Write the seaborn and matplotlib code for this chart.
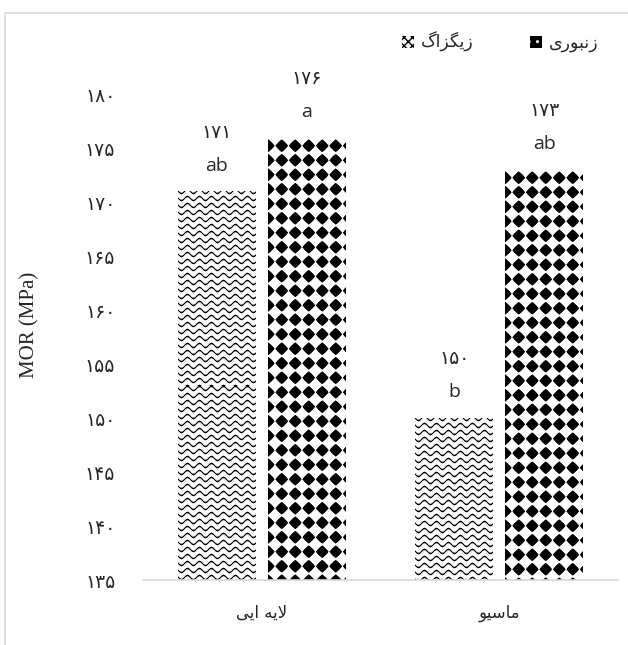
import numpy as np
import pandas as pd
import matplotlib
matplotlib.use("Agg")
import matplotlib.pyplot as plt
import seaborn as sns
from matplotlib.patches import Patch, Rectangle

# داده‌ها
categories = ["لایه ایی", "ماسیو"]
series = ["زیگزاگ", "زنبوری"]
zigzag_values = [171, 150]
honeycomb_values = [176, 173]
zigzag_letters = ["ab", "b"]
honeycomb_letters = ["a", "ab"]
y_ticks = [135, 140, 145, 150, 155, 160, 165, 170, 175, 180]
y_label = "MOR (MPa)"

# شکل‌دهی ساده حروف فارسی (matplotlib خودش اتصال و راست‌به‌چپ ندارد)
FORMS = {
    "ا": ("\uFE8D", "\uFE8E", None, None),
    "ب": ("\uFE8F", "\uFE90", "\uFE91", "\uFE92"),
    "ر": ("\uFEAD", "\uFEAE", None, None),
    "ز": ("\uFEAF", "\uFEB0", None, None),
    "س": ("\uFEB1", "\uFEB2", "\uFEB3", "\uFEB4"),
    "گ": ("\uFB92", "\uFB93", "\uFB94", "\uFB95"),
    "ل": ("\uFEDD", "\uFEDE", "\uFEDF", "\uFEE0"),
    "م": ("\uFEE1", "\uFEE2", "\uFEE3", "\uFEE4"),
    "ن": ("\uFEE5", "\uFEE6", "\uFEE7", "\uFEE8"),
    "ه": ("\uFEE9", "\uFEEA", "\uFEEB", "\uFEEC"),
    "و": ("\uFEED", "\uFEEE", None, None),
    "ی": ("\uFEEF", "\uFEF0", "\uFEF3", "\uFEF4"),
}


def dual(c):
    return c in FORMS and FORMS[c][2] is not None


def shape(text):
    out = []
    i = 0
    n = len(text)
    while i < n:
        c = text[i]
        if c not in FORMS:
            out.append(c)
            i += 1
            continue
        jp = i > 0 and dual(text[i - 1])
        if c == "ل" and i + 1 < n and text[i + 1] == "ا":
            out.append("\uFEFC" if jp else "\uFEFB")
            i += 2
            continue
        jn = dual(c) and i + 1 < n and text[i + 1] in FORMS
        iso, fin, ini, med = FORMS[c]
        if jp and jn:
            out.append(med)
        elif jp:
            out.append(fin)
        elif jn:
            out.append(ini)
        else:
            out.append(iso)
        i += 1
    return "".join(reversed(out))


def fa_digits(v):
    return str(v).translate(str.maketrans("0123456789", "۰۱۲۳۴۵۶۷۸۹"))


def texture(kind, w, h):
    yy, xx = np.mgrid[0:h, 0:w].astype(float)
    if kind == 0:
        wave = 2.0 * np.sin(2 * np.pi * xx / 12.0)
        m = np.mod(yy - wave, 7.0)
        dist = np.minimum(m, 7.0 - m)
        dark = np.clip(1.3 - dist, 0, 1)
    else:
        cx = np.abs(np.mod(xx + 7, 13.5) - 6.75)
        cy = np.abs(np.mod(yy, 14.5) - 7.25)
        r = (cx ** 1.15 + cy ** 1.15) ** (1 / 1.15)
        dark = np.clip(6.8 - r, 0, 1)
    return 1.0 - dark


df = pd.DataFrame({
    "category": [shape(c) for c in categories] * 2,
    "series": [series[0]] * 2 + [series[1]] * 2,
    "value": zigzag_values + honeycomb_values,
})

sns.set_theme(style="white")
plt.rcParams["font.family"] = ["DejaVu Sans"]

fig = plt.figure(figsize=(6.28, 6.45), dpi=100)
ax = fig.add_axes([143 / 628, 1 - 580 / 645, 475 / 628, 485 / 645])

sns.barplot(data=df, x="category", y="value", hue="series",
            order=[shape(c) for c in categories], hue_order=series,
            palette=["white", "white"], width=0.758, gap=0.135,
            linewidth=0, legend=False, ax=ax)

ax.set_ylim(135, 180)
ax.set_xlim(-0.5, 1.5)
ax.set_yticks(y_ticks)
ax.set_yticklabels([fa_digits(t) for t in y_ticks], fontsize=13.5)
ax.set_xticks([0, 1])
ax.set_xticklabels([shape(c) for c in categories], fontsize=12)
ax.tick_params(axis="y", length=0, pad=20)
ax.tick_params(axis="x", length=0, pad=17)
ax.set_xlabel("")
ax.set_ylabel("")
for s in ["left", "top", "right"]:
    ax.spines[s].set_visible(False)
ax.spines["bottom"].set_color("#d9d9d9")
ax.spines["bottom"].set_linewidth(1.2)
ax.grid(False)

# الگوی هاشور برای هر ستون
letters = [zigzag_letters, honeycomb_letters]
for k, cont in enumerate(ax.containers):
    for j, bar in enumerate(cont):
        x0 = bar.get_x()
        x1 = x0 + bar.get_width()
        top = bar.get_height()
        p0 = ax.transData.transform((x0, 135))
        p1 = ax.transData.transform((x1, top))
        w = int(round(p1[0] - p0[0]))
        h = int(round(p1[1] - p0[1]))
        img = texture(k, max(w, 1), max(h, 1))
        ax.imshow(img, cmap="gray", vmin=0, vmax=1, extent=(x0, x1, 135, top),
                  origin="upper", interpolation="nearest", aspect="auto",
                  zorder=bar.get_zorder() + 0.1)
        cx = x0 + bar.get_width() / 2
        ax.annotate(letters[k][j], (cx, top), xytext=(0, 19), textcoords="offset points",
                    ha="center", va="center", fontsize=14, family="Open Sans")
        ax.annotate(fa_digits(int(top)), (cx, top), xytext=(0, 43),
                    textcoords="offset points", ha="center", va="center", fontsize=13.5)

ax.set_ylim(135, 180)
ax.set_xlim(-0.5, 1.5)

# راهنما
handles = [
    Patch(facecolor="white", edgecolor="black", hatch="xxxx", linewidth=0),
    Patch(facecolor="black", edgecolor="white", hatch="..", linewidth=0),
]
fig.legend(handles, [shape(s) for s in series], ncol=2, loc="center right",
           bbox_to_anchor=(614 / 628, 1 - 42 / 645), frameon=False,
           handlelength=0.7, handleheight=0.7, handletextpad=0.4,
           columnspacing=3.2, fontsize=12.5)

fig.text(30 / 628, 1 - 325 / 645, y_label, rotation=90, ha="center", va="center",
         fontsize=15, family="Liberation Serif")

fig.patches.append(Rectangle((5 / 628, -0.1), 1.2, 1.1 - 13 / 645, transform=fig.transFigure,
                             fill=False, edgecolor="#d9d9d9", linewidth=1.2))

fig.savefig("out.png", dpi=100)
